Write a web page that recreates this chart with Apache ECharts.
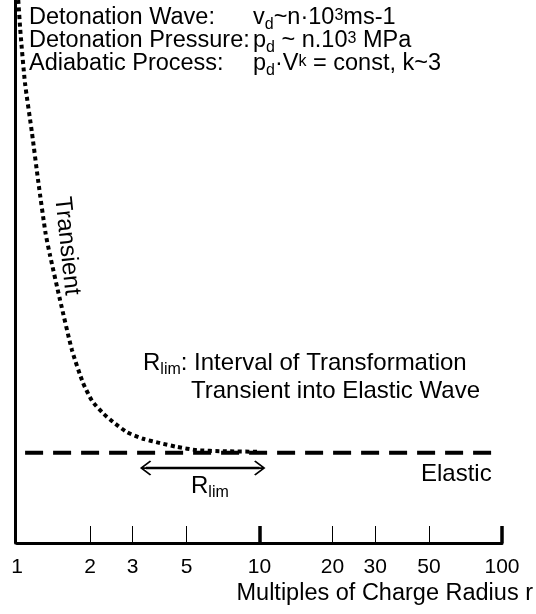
<!DOCTYPE html>
<html><head><meta charset="utf-8">
<script src="https://cdn.jsdelivr.net/npm/echarts@6/dist/echarts.min.js"></script>
<style>html,body{margin:0;padding:0;background:#fff}#c{width:536px;height:614px}</style>
</head><body><div id="c"></div>
<script>
// ---- data ----
const tickLabels = [1, 2, 3, 5, 10, 20, 30, 50, 100];
const minorTicks = [2, 3, 5, 20, 30, 50];
const majorTicks = [10, 100];
const transientR = [1.012, 1.034, 1.079, 1.153, 1.226, 1.311, 1.368, 1.504, 1.686, 1.871, 2.038, 2.262, 2.489, 2.841, 3.307, 3.889, 4.573, 5.52, 7.07, 10.05];
const transientY = [100, 93.9, 84.7, 75.5, 66.3, 57.1, 53.0, 44.8, 35.5, 29.5, 26.2, 23.9, 22.3, 20.4, 19.2, 18.4, 17.7, 17.1, 16.9, 16.8];
const elasticR = [1.08, 95.6];
const elasticY = [16.6, 16.6];
const rLimR = [3.4, 10];
const rLimY = [13.8, 13.8];

const FF = 'Liberation Sans';
const zip = (a, b) => a.map((v, i) => [v, b[i]]);
const chevron = 'path://M0,0 L10,10 L8.6,11.4 L0,2.8 L-8.6,11.4 L-10,10 Z M-1.2,1 L1.2,1 L1.2,12 L-1.2,12 Z';

const base = (size, lh) => ({ fontFamily: FF, fontSize: size, lineHeight: lh, color: '#000', fontWeight: 'normal' });
const richSet = (size) => ({
  t: base(size, 30),
  sub: Object.assign(base(Math.round(size * 0.66), 10), { verticalAlign: 'bottom' }),
  sup: Object.assign(base(Math.round(size * 0.68), 26), { verticalAlign: 'top', padding: [5, 0, 0, 0] })
});
function T(text, pos, size, rich) {
  const ts = base(size, 30);
  if (rich) ts.rich = richSet(size);
  return Object.assign({ text, padding: 0, itemGap: 0, textStyle: ts }, pos);
}

const chart = echarts.init(document.getElementById('c'), null, { renderer: 'canvas' });
chart.setOption({
  backgroundColor: '#fff',
  animation: false,
  grid: { left: 17, right: 34, top: 0, bottom: 71, containLabel: false, outerBoundsMode: 'none' },
  title: [
    T('Detonation Wave:', { left: 29, top: 3 }, 23.5),
    T('Detonation Pressure:', { left: 29, top: 26 }, 23.5),
    T('Adiabatic Process:', { left: 29, top: 49 }, 23.5),
    T('{t|v}{sub|d}{t|~n·10}{sup|3}{t|ms-1}', { left: 253, top: 3 }, 23.5, true),
    T('{t|p}{sub|d}{t| ~ n.10}{sup|3}{t| MPa}', { left: 253, top: 26 }, 23.5, true),
    T('{t|p}{sub|d}{t|·V}{sup|k}{t| = const, k~3}', { left: 253, top: 49 }, 23.5, true),
    T('{t|R}{sub|lim}{t|: Interval of Transformation}', { left: 143, top: 348 }, 24, true),
    T('Transient into Elastic Wave', { left: 191, top: 376 }, 24),
    T('Elastic', { left: 421, top: 459 }, 24),
    T('{t|R}{sub|lim}', { left: 191, top: 471 }, 24, true),
    T('Multiples of Charge Radius r', { right: 3, top: 579 }, 23.5)
  ],
  graphic: [{
    type: 'text', x: 67, y: 246, rotation: -84 * Math.PI / 180,
    style: { text: 'Transient', font: '24px "Liberation Sans"', fill: '#000', align: 'center', verticalAlign: 'middle' }
  }],
  xAxis: [{
    type: 'log', logBase: 10, min: 1, max: 100, position: 'bottom',
    axisLine: { show: true, onZero: false, lineStyle: { color: '#000', width: 3 } },
    axisTick: { show: true, inside: true, length: 17, customValues: minorTicks, lineStyle: { color: '#000', width: 1 } },
    axisLabel: { show: true, customValues: tickLabels, margin: 14, fontFamily: FF, fontSize: 21, color: '#000',
      formatter: v => String(Math.round(v)), hideOverlap: false },
    splitLine: { show: false }, minorTick: { show: false }
  }, {
    type: 'log', logBase: 10, min: 1, max: 100, position: 'bottom',
    axisLine: { show: false },
    axisTick: { show: true, inside: true, length: 17, customValues: majorTicks, lineStyle: { color: '#000', width: 3.5 } },
    axisLabel: { show: false }, splitLine: { show: false }
  }],
  yAxis: {
    type: 'value', min: 0, max: 100, offset: 1.5,
    axisLine: { show: true, onZero: false, lineStyle: { color: '#000', width: 3 } },
    axisTick: { show: false }, axisLabel: { show: false }, splitLine: { show: false }
  },
  series: [{
    name: 'Transient', type: 'line', xAxisIndex: 0, data: zip(transientR, transientY),
    showSymbol: false, smooth: 0.2, z: 3,
    lineStyle: { color: '#000', width: 4, type: [4, 3.5], cap: 'butt' }
  }, {
    name: 'Elastic', type: 'line', xAxisIndex: 0, data: zip(elasticR, elasticY),
    showSymbol: false, z: 2,
    lineStyle: { color: '#000', width: 4, type: [18, 10], cap: 'butt' }
  }, {
    name: 'Rlim', type: 'line', xAxisIndex: 0,
    data: zip(rLimR, rLimY).map((p, i) => ({ value: p, symbolRotate: i === 0 ? 90 : -90 })),
    showSymbol: true, symbol: chevron, symbolSize: [15, 12],
    itemStyle: { color: '#000' },
    lineStyle: { color: '#000', width: 2.5 }
  }]
});
</script></body></html>
